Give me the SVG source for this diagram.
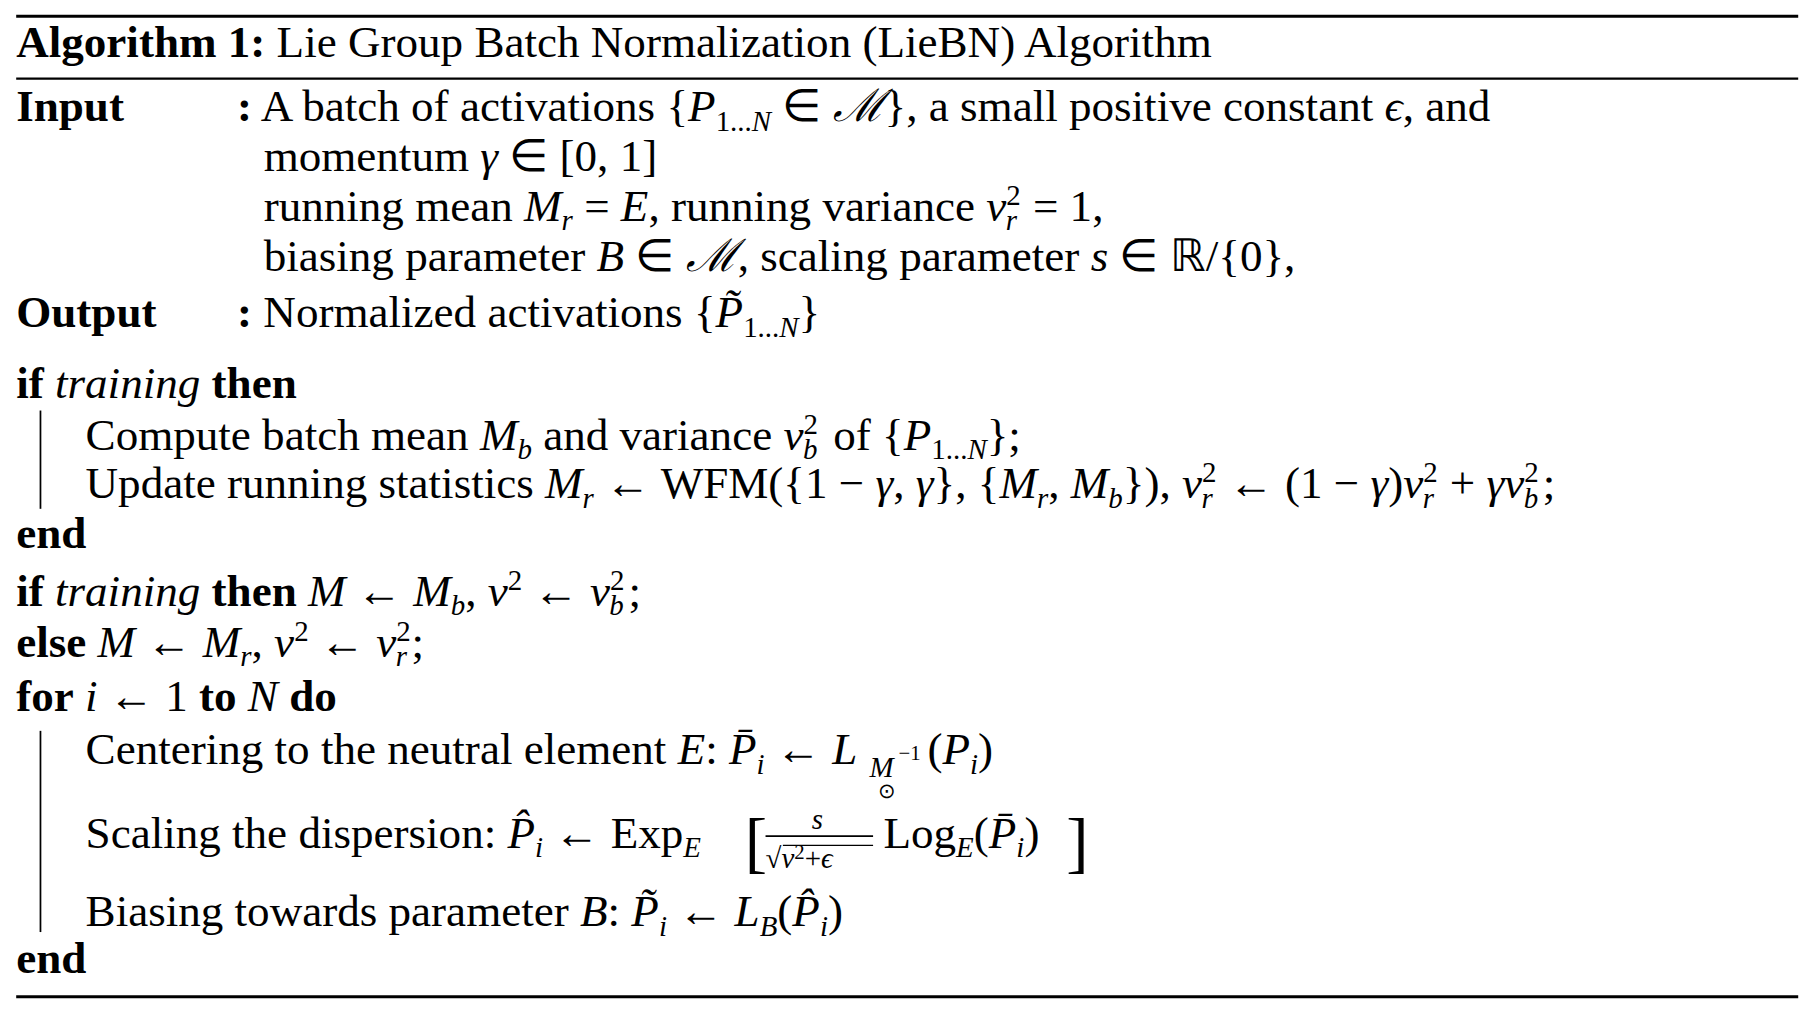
<svg xmlns="http://www.w3.org/2000/svg" width="1804" height="1012" viewBox="0 0 1804 1012">
<style>
text{font-family:"Liberation Serif","Times New Roman",serif;font-size:39px;fill:#000}
.b{font-weight:bold}.i{font-style:italic}.s{font-size:25px}.t{font-size:18px}
.r{stroke:#000;fill:none}
</style>
<rect width="1804" height="1012" fill="#fff"/>
<g transform="scale(1.1564)">
<g id="rules">
<line class="r" x1="14" y1="14" x2="1555" y2="14" stroke-width="2.5"/>
<line class="r" x1="14" y1="68" x2="1555" y2="68" stroke-width="2"/>
<line class="r" x1="14" y1="862" x2="1555" y2="862" stroke-width="2.5"/>
<line class="r" x1="35" y1="355" x2="35" y2="440" stroke-width="1.5"/>
<line class="r" x1="35" y1="632" x2="35" y2="806" stroke-width="1.5"/>
</g>
<g id="header"><text x="14" y="49"><tspan class="b">Algorithm 1:</tspan> Lie Group Batch Normalization (LieBN) Algorithm</text></g>
<g id="io">
<text x="14" y="105" class="b">Input</text>
<text x="205" y="105"><tspan class="b">:</tspan>  A batch of activations {<tspan class="i">P</tspan><tspan class="s" dy="8">1...<tspan class="i">N</tspan></tspan><tspan dy="-8"> ∈ </tspan><tspan class="i">ℳ</tspan>}, a small positive constant <tspan class="i">ϵ</tspan>, and</text>
<text x="228" y="148">momentum <tspan class="i">γ</tspan> ∈ [0, 1]</text>
<text x="228" y="191">running mean <tspan class="i">M</tspan><tspan class="s i" dy="8">r</tspan><tspan dy="-8"> = </tspan><tspan class="i">E</tspan>, running variance <tspan class="i">v</tspan><tspan class="s" dy="-14">2</tspan><tspan class="s i" dx="-13" dy="22">r</tspan><tspan dy="-8" dx="4"> = 1,</tspan></text>
<text x="228" y="234">biasing parameter <tspan class="i">B</tspan> ∈ <tspan class="i">ℳ</tspan>, scaling parameter <tspan class="i">s</tspan> ∈ ℝ/{0},</text>
<text x="14" y="283" class="b">Output</text>
<text x="205" y="283"><tspan class="b">:</tspan> Normalized activations {<tspan class="i">P̃</tspan><tspan class="s" dy="8">1...<tspan class="i">N</tspan></tspan><tspan dy="-8">}</tspan></text>
</g>
<g id="train">
<text x="14" y="344"><tspan class="b">if</tspan> <tspan class="i">training</tspan> <tspan class="b">then</tspan></text>
<text x="74" y="389">Compute batch mean <tspan class="i">M</tspan><tspan class="s i" dy="8">b</tspan><tspan dy="-8"> and variance </tspan><tspan class="i">v</tspan><tspan class="s" dy="-14">2</tspan><tspan class="s i" dx="-13" dy="22">b</tspan><tspan dy="-8" dx="4"> of {</tspan><tspan class="i">P</tspan><tspan class="s" dy="8">1...<tspan class="i">N</tspan></tspan><tspan dy="-8">};</tspan></text>
<text x="74" y="431">Update running statistics <tspan class="i">M</tspan><tspan class="s i" dy="8">r</tspan><tspan dy="-8"> ← WFM({1 − </tspan><tspan class="i">γ</tspan>, <tspan class="i">γ</tspan>}, {<tspan class="i">M</tspan><tspan class="s i" dy="8">r</tspan><tspan dy="-8">, </tspan><tspan class="i">M</tspan><tspan class="s i" dy="8">b</tspan><tspan dy="-8">}), </tspan><tspan class="i">v</tspan><tspan class="s" dy="-14">2</tspan><tspan class="s i" dx="-13" dy="22">r</tspan><tspan dy="-8" dx="4"> ← (1 − </tspan><tspan class="i">γ</tspan>)<tspan class="i">v</tspan><tspan class="s" dy="-14">2</tspan><tspan class="s i" dx="-13" dy="22">r</tspan><tspan dy="-8" dx="4"> + </tspan><tspan class="i">γv</tspan><tspan class="s" dy="-14">2</tspan><tspan class="s i" dx="-13" dy="22">b</tspan><tspan dy="-8" dx="4">;</tspan></text>
<text x="14" y="474" class="b">end</text>
</g>
<g id="select">
<text x="14" y="524"><tspan class="b">if</tspan> <tspan class="i">training</tspan> <tspan class="b">then</tspan> <tspan class="i">M</tspan> ← <tspan class="i">M</tspan><tspan class="s i" dy="8">b</tspan><tspan dy="-8">, </tspan><tspan class="i">v</tspan><tspan class="s" dy="-14">2</tspan><tspan dy="14"> ← </tspan><tspan class="i">v</tspan><tspan class="s" dy="-14">2</tspan><tspan class="s i" dx="-13" dy="22">b</tspan><tspan dy="-8" dx="4">;</tspan></text>
<text x="14" y="568"><tspan class="b">else</tspan> <tspan class="i">M</tspan> ← <tspan class="i">M</tspan><tspan class="s i" dy="8">r</tspan><tspan dy="-8">, </tspan><tspan class="i">v</tspan><tspan class="s" dy="-14">2</tspan><tspan dy="14"> ← </tspan><tspan class="i">v</tspan><tspan class="s" dy="-14">2</tspan><tspan class="s i" dx="-13" dy="22">r</tspan><tspan dy="-8" dx="4">;</tspan></text>
</g>
<g id="loop">
<text x="14" y="615"><tspan class="b">for</tspan> <tspan class="i">i</tspan> ← 1 <tspan class="b">to</tspan> <tspan class="i">N</tspan> <tspan class="b">do</tspan></text>
<text x="74" y="661">Centering to the neutral element <tspan class="i">E</tspan>: <tspan class="i">P̄</tspan><tspan class="s i" dy="8">i</tspan><tspan dy="-8"> ← </tspan><tspan class="i">L</tspan></text>
<text x="752" y="672" class="s i">M</text>
<text x="777" y="657" class="t">−1</text>
<text x="759" y="690" class="t">⊙</text>
<text x="802" y="661">(<tspan class="i">P</tspan><tspan class="s i" dy="8">i</tspan><tspan dy="-8">)</tspan></text>
<text x="74" y="733">Scaling the dispersion: <tspan class="i">P̂</tspan><tspan class="s i" dy="8">i</tspan><tspan dy="-8"> ← Exp</tspan><tspan class="s i" dy="8">E</tspan></text>
<text x="644" y="748" style="font-size:58px">[</text>
<text x="702" y="717" class="s i">s</text>
<line class="r" x1="662" y1="723" x2="755" y2="723" stroke-width="1.5"/>
<text x="662" y="751" class="s">√<tspan class="i">v</tspan><tspan class="t" dy="-8">2</tspan><tspan dy="8">+</tspan><tspan class="i">ϵ</tspan></text>
<line class="r" x1="677" y1="731" x2="755" y2="731" stroke-width="1"/>
<text x="764" y="733">Log<tspan class="s i" dy="8">E</tspan><tspan dy="-8">(</tspan><tspan class="i">P̄</tspan><tspan class="s i" dy="8">i</tspan><tspan dy="-8">)</tspan></text>
<text x="922" y="748" style="font-size:58px">]</text>
<text x="74" y="801">Biasing towards parameter <tspan class="i">B</tspan>: <tspan class="i">P̃</tspan><tspan class="s i" dy="8">i</tspan><tspan dy="-8"> ← </tspan><tspan class="i">L</tspan><tspan class="s i" dy="8">B</tspan><tspan dy="-8">(</tspan><tspan class="i">P̂</tspan><tspan class="s i" dy="8">i</tspan><tspan dy="-8">)</tspan></text>
<text x="14" y="841" class="b">end</text>
</g>
</g>
</svg>
